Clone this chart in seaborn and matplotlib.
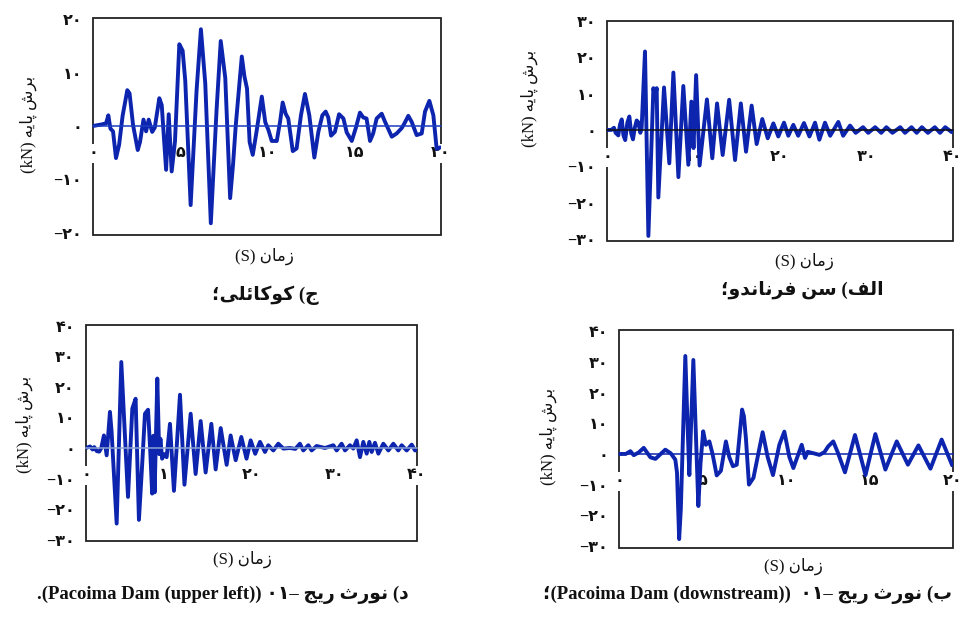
import matplotlib
matplotlib.use('Agg')
import matplotlib.pyplot as plt
from matplotlib.patches import Rectangle
import seaborn as sns

sns.set_theme(style='white')
plt.rcParams['font.family'] = ['Liberation Serif', 'DejaVu Sans']

BLUE = '#0c24ae'

# ---- data (time s, base shear kN) ----
# ج) Kocaeli
koc_t = [0, 0.5, 0.75, 0.88, 1.0, 1.15, 1.32, 1.5, 1.7, 1.97, 2.1, 2.3, 2.57, 2.7, 2.9,
         3.05, 3.2, 3.4, 3.55, 3.81, 3.95, 4.05, 4.2, 4.35, 4.52, 4.71, 4.96, 5.15, 5.3,
         5.61, 5.95, 6.2, 6.45, 6.77, 7.1, 7.34, 7.6, 7.88, 8.05, 8.2, 8.55, 8.7, 8.85,
         9.0, 9.18, 9.4, 9.7, 9.9, 10.08, 10.27, 10.56, 10.75, 10.9, 11.07, 11.22, 11.48,
         11.7, 11.95, 12.18, 12.43, 12.72, 12.95, 13.18, 13.37, 13.52, 13.68, 13.9, 14.14,
         14.39, 14.58, 14.87, 15.1, 15.34, 15.53, 15.72, 15.92, 16.1, 16.3, 16.59, 16.78,
         17.17, 17.45, 17.74, 17.9, 18.12, 18.31, 18.6, 18.89, 19.08, 19.33, 19.56, 19.75,
         19.95]
koc_v = [0, 0.3, 0.5, 2.0, -0.5, -1.0, -6.0, -3.5, 1.9, 6.7, 6.1, 0.2, -4.5, -3.0, 1.2,
         -1.0, 1.2, -1.1, -0.3, 5.2, 3.9, -1.0, -8.2, 2.2, -8.5, -2.9, 15.3, 14.1, 8.5,
         -14.8, 6.6, 18.1, 8.0, -18.2, 3.0, 15.9, 9.0, -13.5, -7.1, 0.0, 13.0, 9.3, 7.0,
         -3.0, -5.4, -1.0, 5.5, 0.7, -0.75, -2.8, -2.8, 0.8, 4.4, 2.3, 1.4, -4.7,
         -4.2, 2.0, 6.0, 2.0, -5.9, -1.1, 2.0, 2.7, 1.6, -1.8, -1.1, 2.2,
         1.4, -1.2, -2.8, -0.4, 2.5, 1.6, 1.4, -2.8, -1.4, 1.4, 2.3, 0.8,
         -2.0, -1.4, -0.4, 0.5, 1.9, 0.8, -1.7, -1.4, 2.7, 4.7, 2.0, -4.3,
         -4.0]

# الف) San Fernando
sf_t = [0, 0.5, 0.8, 1.0, 1.3, 1.5, 1.7, 1.9, 2.1, 2.35, 2.58, 2.8, 3.0, 3.2, 3.43, 3.62,
        3.85, 4.0, 4.39, 4.78, 5.36, 5.55, 5.74, 5.93, 6.59, 7.2, 7.67, 8.25, 8.82, 9.4,
        9.75, 10.0, 10.3, 10.7, 11.55, 12.17, 12.72, 13.37, 14.12, 14.8, 15.47, 16.07,
        16.72, 17.3, 17.95, 18.58, 19.23, 19.8, 20.46, 20.96, 21.54, 22.1, 22.77, 23.4,
        24.05, 24.55, 25.2, 25.8, 26.74, 27.3, 28.1, 28.75, 29.6, 30.2, 31.0, 31.7, 32.3,
        33.0, 33.9, 34.45, 35.2, 35.8, 36.4, 37.1, 37.9, 38.5, 39.1, 39.85, 40]
sf_v = [0, 0, 0.6, -0.8, -1.5, 1.5, 2.9, -1.5, -2.8, 2.0, 3.7, -1.0, -2.6, 0.5, 2.6, 2.1,
        -0.8, 0.5, 21.6, -29.2, 11.5, 9.0, 11.5, -18.6, 11.7, -9.2, 15.8, -13.0, 12.1, -9.6,
        7.8, -5.0, 15.1, -9.8, 8.4, -7.8, 7.3, -6.9, 8.3, -8.3, 7.3, -6.0,
        6.7, -3.9, 3.0, -2.3, 1.8, -1.8, 2.0, -1.6, 1.4, -1.6, 1.9, -1.8,
        2.0, -2.7, 2.0, -1.6, 2.2, -1.6, 1.2, -0.8, 0.75, -0.8, 0.75, -0.8, 0.75,
        -0.8, 0.75, -0.8, 0.75, -0.8, 0.75, -0.8, 0.75, -0.8, 0.75, -0.6, -0.3]

# د) Northridge-01, Pacoima Dam (upper left)
ul_t = [0, 0.5, 0.8, 1.0, 1.3, 1.6, 1.85, 2.17, 2.5, 2.9, 3.1, 3.71, 4.27, 4.6, 5.08, 5.6,
        6.0, 6.4, 6.8, 7.13, 7.5, 7.75, 8.0, 8.15, 8.3, 8.62, 8.85, 9.0, 9.2, 9.5, 9.75,
        10.15, 10.63, 11.36, 11.9, 12.65, 13.25, 13.86, 14.46, 15.15, 15.67, 16.28, 17.0,
        17.48, 18.09, 18.77, 19.4, 19.9, 20.45, 21.03, 21.63, 22.03, 22.64, 23.24, 23.85,
        24.65, 25.3, 25.85, 26.26, 26.87, 27.27, 27.87, 28.88, 29.89, 30.29, 30.89, 31.3,
        31.9, 32.3, 32.71, 33.11, 33.51, 33.92, 34.24, 34.52, 34.92, 35.33, 35.93, 36.54,
        37.14, 37.74, 38.15, 38.75, 39.36, 39.76, 40]
ul_v = [0, 0.5, -0.5, 0.3, -1.0, -1.2, 0.0, 4.1, -2.4, 11.8, 5.2, -24.7, 28.1, 10.0, -16.0, 12.9,
        16.1, -23.5, -5.0, 11.2, 12.5, 0.0, -14.9, 4.0, -14.5, 22.7, -2.0, 3.0, -3.5, -2.0, -3.0,
        7.9, -14.0, 17.4, -12.0, 11.2, -8.5, 8.8, -8.0, 7.9, -7.0, 6.5, -5.5,
        4.1, -4.0, 3.6, -3.5, 2.5, -1.9, 2.0, -1.3, 0.9, -0.8, 1.4, -0.2,
        0.0, -0.3, 1.4, -0.8, 0.9, -0.8, 0.65, 0.0, 0.9, -0.8, 1.4, -0.8,
        0.9, -0.2, 2.5, -3.0, 2.0, -1.85, 2.0, -1.3, 1.7, -1.85, 1.4, -0.8,
        1.4, -0.8, 0.9, -0.8, 1.1, -0.8, -0.5]

# ب) Northridge-01, Pacoima Dam (downstream)
ds_t = [0, 0.4, 0.68, 0.88, 1.18, 1.48, 1.88, 2.18, 2.77, 3.1, 3.37, 3.47, 3.6, 3.7, 3.97,
        4.1, 4.21, 4.45, 4.58, 4.75, 4.88, 5.04, 5.2, 5.41, 5.6, 5.85, 6.1, 6.4, 6.6, 6.82,
        7.05, 7.37, 7.48, 7.6, 7.78, 8.05, 8.6, 8.9, 9.22, 9.6, 9.9, 10.2, 10.44, 10.94,
        11.14, 11.3, 11.6, 12.0, 12.3, 12.53, 12.83, 13.1, 13.53, 14.13, 14.76, 15.35,
        15.95, 16.63, 17.3, 17.93, 18.65, 19.32, 19.95]
ds_v = [0, 0.0, 0.9, -0.4, 0.5, 2.0, -1.1, -1.6, 1.4, 0.2, -1.85, -6.0, -27.8, -18.0, 32.0,
        10.0, -6.9, 30.7, 10.0, -17.0, -3.0, 7.4, 3.0, 4.1, 0.0, -7.0, -5.5, 4.1, -1.0, -4.0,
        -3.5, 14.5, 12.3, 5.0, -10.0, -7.8, 7.1, -1.0, -6.9, 3.0, 7.3, -1.0, -4.6, 3.0,
        -1.3, 0.7, 0.3, -0.3, 0.6, 2.5, 4.1, 0.5, -6.0, 6.2, -6.9, 6.5,
        -5.1, 4.1, -3.5, 2.8, -4.8, 4.7, -3.7]

# ---- minimal Persian shaping (matplotlib draws glyphs left to right, unjoined) ----
FORMS = {
    'ا': ('\uFE8D', '\uFE8E', None, None),
    'ب': ('\uFE8F', '\uFE90', '\uFE91', '\uFE92'),
    'پ': ('\uFB56', '\uFB57', '\uFB58', '\uFB59'),
    'ث': ('\uFE99', '\uFE9A', '\uFE9B', '\uFE9C'),
    'ج': ('\uFE9D', '\uFE9E', '\uFE9F', '\uFEA0'),
    'د': ('\uFEA9', '\uFEAA', None, None),
    'ر': ('\uFEAD', '\uFEAE', None, None),
    'ز': ('\uFEAF', '\uFEB0', None, None),
    'س': ('\uFEB1', '\uFEB2', '\uFEB3', '\uFEB4'),
    'ش': ('\uFEB5', '\uFEB6', '\uFEB7', '\uFEB8'),
    'ف': ('\uFED1', '\uFED2', '\uFED3', '\uFED4'),
    'ک': ('\uFB8E', '\uFB8F', '\uFB90', '\uFB91'),
    'ل': ('\uFEDD', '\uFEDE', '\uFEDF', '\uFEE0'),
    'م': ('\uFEE1', '\uFEE2', '\uFEE3', '\uFEE4'),
    'ن': ('\uFEE5', '\uFEE6', '\uFEE7', '\uFEE8'),
    'ه': ('\uFEE9', '\uFEEA', '\uFEEB', '\uFEEC'),
    'و': ('\uFEED', '\uFEEE', None, None),
    'ی': ('\uFBFC', '\uFBFD', '\uFBFE', '\uFBFF'),
    'ئ': ('\uFE89', '\uFE8A', '\uFE8B', '\uFE8C'),
}
MIRROR = {'(': ')', ')': '('}


def fa(text):
    out = []
    for i, ch in enumerate(text):
        if ch not in FORMS:
            out.append(MIRROR.get(ch, ch))
            continue
        prev = text[i - 1] if i > 0 else ''
        nxt = text[i + 1] if i + 1 < len(text) else ''
        join_prev = prev in FORMS and FORMS[prev][2] is not None
        join_next = nxt in FORMS and FORMS[ch][2] is not None
        iso, fin, ini, med = FORMS[ch]
        if join_prev and join_next:
            out.append(med)
        elif join_prev:
            out.append(fin)
        elif join_next:
            out.append(ini)
        else:
            out.append(iso)
    return ''.join(out[::-1])


def fa_num(n):
    s = str(abs(int(n))).translate(str.maketrans('0123456789', '۰۱۲۳۴۵۶۷۸۹'))
    return '−' + s if n < 0 else s


YLABEL = '(kN) ' + fa('برش پایه')
XLABEL = '(S) ' + fa('زمان')

panels = [
    dict(t=koc_t, v=koc_v, rect=[0.0961, 0.6197, 0.3595, 0.3511], ylim=(-20.4, 20.2),
         xt=[0, 5, 10, 15, 20], yt=[-20, -10, 0, 10, 20], zero='#1a3cc0',
         ylab=(-0.161, 0.51), xlab=(0.494, -0.06), title=(0.494, -0.276),
         text=fa('ج) کوکائلی؛')),
    dict(t=sf_t, v=sf_v, rect=[0.6271, 0.61, 0.3574, 0.356], ylim=(-30.6, 30.0),
         xt=[0, 10, 20, 30, 40], yt=[-30, -20, -10, 0, 10, 20, 30], zero='#111111',
         ylab=(-0.199, 0.65), xlab=(0.572, -0.054), title=(0.565, -0.223),
         text=fa('الف) سن فرناندو؛')),
    dict(t=ul_t, v=ul_v, rect=[0.0888, 0.1246, 0.342, 0.3495], ylim=(-30.4, 40.2),
         xt=[0, 10, 20, 30, 40], yt=[-30, -20, -10, 0, 10, 20, 30, 40], zero='#8aa2d0',
         ylab=(-0.16, 0.54), xlab=(0.474, -0.047), title=(0.414, -0.25),
         text='.(Pacoima Dam (upper left)) ۰۱– ' + fa('نورث ریج') + ' ' + fa('د)')),
    dict(t=ds_t, v=ds_v, rect=[0.6395, 0.1133, 0.345, 0.3528], ylim=(-30.7, 40.5),
         xt=[0, 5, 10, 15, 20], yt=[-30, -20, -10, 0, 10, 20, 30, 40], zero=BLUE,
         ylab=(-0.186, 0.51), xlab=(0.521, -0.046), title=(0.386, -0.216),
         text='؛(Pacoima Dam (downstream))  ۰۱– ' + fa('نورث ریج') + ' ' + fa('ب)')),
]

fig = plt.figure(figsize=(9.68, 6.18), dpi=100)

for p in panels:
    ax = fig.add_axes(p['rect'])
    sns.lineplot(x=p['t'], y=p['v'], ax=ax, color=BLUE, lw=2.8,
                 estimator=None, sort=False)
    ax.set_xlim(p['xt'][0], p['xt'][-1])
    ax.set_ylim(*p['ylim'])

    # x axis rides on the zero line, box drawn separately
    ax.spines['bottom'].set_position(('data', 0))
    ax.spines['bottom'].set_color(p['zero'])
    ax.spines['bottom'].set_linewidth(1.1)
    for s in ['top', 'left', 'right']:
        ax.spines[s].set_visible(False)
    ax.add_patch(Rectangle((0, 0), 1, 1, transform=ax.transAxes, fill=False,
                           ec='#222222', lw=1.3, clip_on=False, zorder=0.3))
    ax.set_axisbelow(True)

    ax.set_xticks(p['xt'], [fa_num(x) for x in p['xt']])
    ax.set_yticks(p['yt'], [fa_num(y) for y in p['yt']])
    ax.tick_params(length=0, labelsize=11.5, colors='#111111')
    ax.tick_params(axis='x', pad=14)
    ax.tick_params(axis='y', pad=8)
    for lab in ax.get_xticklabels():
        lab.set_fontweight('bold')
        lab.set_bbox(dict(facecolor='white', edgecolor='none', pad=1))
    for lab in ax.get_yticklabels():
        lab.set_fontweight('bold')

    ax.set_ylabel(YLABEL, fontsize=12, color='#111111')
    ax.yaxis.set_label_coords(*p['ylab'])
    ax.set_xlabel(XLABEL, fontsize=12, color='#111111')
    ax.xaxis.set_label_coords(*p['xlab'])
    ax.text(p['title'][0], p['title'][1], p['text'], transform=ax.transAxes,
            ha='center', va='center', fontsize=13.5, fontweight='bold', color='#111111')

fig.savefig('out.png', dpi=100)
